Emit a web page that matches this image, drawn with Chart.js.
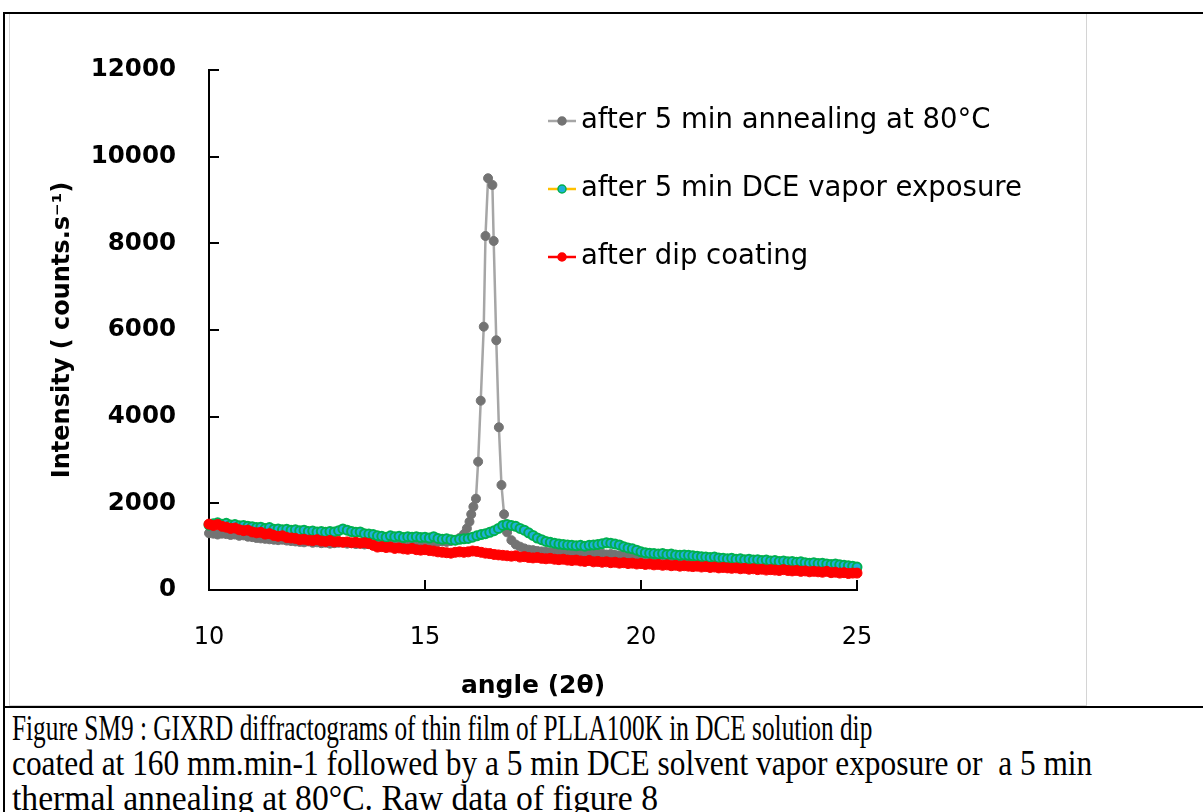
<!DOCTYPE html>
<html>
<head>
<meta charset="utf-8">
<script src="https://cdn.jsdelivr.net/npm/chart.js@4.4.1/dist/chart.umd.min.js"></script>
<style>
  html, body { margin: 0; padding: 0; background: #fff; overflow: hidden; width: 1203px; height: 812px; }
  #frame { position: absolute; left: 9px; top: 13px; width: 1076px; height: 691px; border: 1px solid #d4d4d4; background: #fff; }
  #c { position: absolute; left: 0; top: 0; }
  .bl { position: absolute; background: #000; }
  .cap { position: absolute; left: 12px; font-family: "Liberation Serif", "Times New Roman", serif; font-size: 25.3px; color: #000; white-space: pre; transform-origin: 0 0; line-height: 25px; }
</style>
</head>
<body>
<div id="frame"><canvas id="c" width="1076" height="691"></canvas></div>
<div class="bl" style="left:3px; top:12px; width:1200px; height:2px;"></div>
<div class="bl" style="left:3px; top:12px; width:2px; height:800px;"></div>
<div class="bl" style="left:3px; top:706px; width:1200px; height:2px;"></div>
<div class="cap" style="top:711px; transform: scale(1, 1.4);">Figure SM9 : GIXRD diffractograms of thin film of PLLA100K in DCE solution dip</div>
<div class="cap" style="top:746px; transform: scale(1.24, 1.4);">coated at 160 mm.min-1 followed by a 5 min DCE solvent vapor exposure or  a 5 min</div>
<div class="cap" style="top:781px; transform: scale(1.33, 1.4);">thermal annealing at 80°C. Raw data of figure 8</div>
<script>
// ---------- data ----------
const angles = [
  10.0,10.1,10.2,10.3,10.4,10.5,10.6,10.7,10.8,10.9,
  11.0,11.1,11.2,11.3,11.4,11.5,11.6,11.7,11.8,11.9,
  12.0,12.1,12.2,12.3,12.4,12.5,12.6,12.7,12.8,12.9,
  13.0,13.1,13.2,13.3,13.4,13.5,13.6,13.7,13.8,13.9,
  14.0,14.1,14.2,14.3,14.4,14.5,14.6,14.7,14.8,14.9,
  15.0,15.1,15.2,15.3,15.4,15.5,15.6,15.7,15.8,15.9,
  16.0,16.1,16.2,16.3,16.4,16.5,16.6,16.7,16.8,16.9,
  17.0,17.1,17.2,17.3,17.4,17.5,17.6,17.7,17.8,17.9,
  18.0,18.1,18.2,18.3,18.4,18.5,18.6,18.7,18.8,18.9,
  19.0,19.1,19.2,19.3,19.4,19.5,19.6,19.7,19.8,19.9,
  20.0,20.1,20.2,20.3,20.4,20.5,20.6,20.7,20.8,20.9,
  21.0,21.1,21.2,21.3,21.4,21.5,21.6,21.7,21.8,21.9,
  22.0,22.1,22.2,22.3,22.4,22.5,22.6,22.7,22.8,22.9,
  23.0,23.1,23.2,23.3,23.4,23.5,23.6,23.7,23.8,23.9,
  24.0,24.1,24.2,24.3,24.4,24.5,24.6,24.7,24.8,24.9,
  25.0
];
const dipCoating = [
  1520,1490,1510,1470,1450,1420,1430,1390,1370,1380,
  1340,1320,1330,1290,1300,1260,1240,1250,1210,1200,
  1190,1160,1170,1150,1140,1160,1130,1120,1140,1110,
  1120,1100,1110,1090,1100,1080,1090,1070,1030,990,
  1000,980,990,960,970,950,940,960,930,920,
  930,910,900,880,870,860,850,870,880,870,
  880,900,890,870,850,840,820,810,800,790,
  780,790,760,770,750,740,750,730,720,730,
  710,700,710,690,680,690,670,660,680,650,
  660,640,650,630,640,620,630,610,620,600,
  610,590,600,580,590,570,580,560,570,550,
  560,550,540,550,530,540,520,530,510,520,
  510,500,510,490,500,480,490,470,480,460,
  470,460,450,470,450,440,450,430,440,420,
  430,420,410,430,400,410,390,400,380,390,
  390
];
const dceVapor = [
  1500,1530,1550,1520,1540,1500,1510,1480,1490,1470,
  1460,1440,1450,1420,1440,1400,1410,1390,1400,1380,
  1390,1370,1380,1350,1360,1340,1350,1330,1350,1340,
  1370,1410,1380,1350,1330,1340,1300,1290,1280,1250,
  1240,1220,1250,1230,1240,1210,1230,1220,1230,1210,
  1220,1200,1230,1190,1170,1180,1160,1150,1170,1180,
  1190,1220,1250,1280,1300,1330,1370,1420,1490,1510,
  1490,1470,1420,1380,1320,1260,1200,1160,1120,1100,
  1080,1060,1050,1040,1030,1020,1030,1010,1030,1040,
  1050,1070,1090,1080,1060,1040,1000,970,950,920,
  880,860,850,840,830,840,820,830,810,800,
  810,800,790,780,770,760,750,760,740,730,
  720,730,710,720,700,710,690,700,680,690,
  670,680,660,670,650,660,640,650,630,620,
  630,610,620,600,590,600,580,570,560,550,
  530
];
const annealAngles = [
  10.0,10.1,10.2,10.3,10.4,10.5,10.6,10.7,10.8,10.9,
  11.0,11.1,11.2,11.3,11.4,11.5,11.6,11.7,11.8,11.9,
  12.0,12.1,12.2,12.3,12.4,12.5,12.6,12.7,12.8,12.9,
  13.0,13.1,13.2,13.3,13.4,13.5,13.6,13.7,13.8,13.9,
  14.0,14.1,14.2,14.3,14.4,14.5,14.6,14.7,14.8,14.9,
  15.0,15.1,15.2,15.3,15.4,15.5,15.6,15.7,15.8,15.9,
  15.97,16.03,16.07,16.12,16.18,16.23,16.29,16.36,16.40,16.46,
  16.56,16.59,16.65,16.71,16.77,16.83,16.9,
  17.0,17.1,17.2,17.3,17.4,17.5,17.6,17.7,17.8,17.9,
  18.0,18.1,18.2,18.3,18.4,18.5,18.6,18.7,18.8,18.9,
  19.0,19.1,19.2,19.3,19.4,19.5,19.6,19.7,19.8,19.9,
  20.0,20.1,20.2,20.3,20.4,20.5,20.6,20.7,20.8,20.9,
  21.0,21.1,21.2,21.3,21.4,21.5,21.6,21.7,21.8,21.9,
  22.0,22.1,22.2,22.3,22.4,22.5,22.6,22.7,22.8,22.9,
  23.0,23.1,23.2,23.3,23.4,23.5,23.6,23.7,23.8,23.9,
  24.0,24.1,24.2,24.3,24.4,24.5,24.6,24.7,24.8,24.9,
  25.0
];
const annealing = [
  1310,1300,1280,1300,1290,1270,1280,1250,1260,1230,
  1220,1200,1190,1180,1170,1160,1150,1160,1140,1130,
  1120,1110,1100,1120,1090,1100,1080,1090,1070,1080,
  1090,1100,1070,1080,1060,1070,1050,1060,1040,1050,
  1040,1030,1040,1050,1060,1070,1060,1080,1070,1090,
  1080,1100,1090,1110,1120,1110,1130,1150,1200,1290,
  1420,1576,1747,1922,2107,2961,4369,6077,8170,9502,
  9347,8055,5763,3755,2423,1747,1330,
  1150,1050,1000,960,930,920,900,890,880,870,
  870,860,870,850,860,850,840,850,830,840,
  830,840,820,830,810,800,790,780,760,740,
  830,810,800,790,780,790,770,780,760,750,
  760,750,740,730,720,710,700,710,690,680,
  670,680,660,670,650,660,640,650,630,640,
  620,630,610,620,600,610,590,600,580,570,
  580,560,570,550,540,550,530,520,510,500,
  490
];
const seriesLabels = ['after 5 min annealing at 80°C', 'after 5 min DCE vapor exposure', 'after dip coating'];
const yTicks = [0, 2000, 4000, 6000, 8000, 10000, 12000];
const xTicks = [10, 15, 20, 25];

// ---------- chart ----------
const FONT = '"DejaVu Sans", "Liberation Sans", sans-serif';
const toXY = (xs, ys) => xs.map((x, i) => ({ x: x, y: ys[i] }));

const insideTicks = {
  id: 'insideTicks',
  afterDraw(chart) {
    const c = chart.ctx, xs = chart.scales.x, ys = chart.scales.y, a = chart.chartArea;
    c.save();
    c.strokeStyle = '#000';
    c.lineWidth = 2;
    c.beginPath();
    xTicks.forEach(v => { const p = Math.round(xs.getPixelForValue(v)); c.moveTo(p, a.bottom); c.lineTo(p, a.bottom - 10); });
    yTicks.forEach(v => { const p = Math.round(ys.getPixelForValue(v)); c.moveTo(a.left, p); c.lineTo(a.left + 10, p); });
    c.stroke();
    c.restore();
  }
};

const customLegend = {
  id: 'customLegend',
  afterDraw(chart) {
    const c = chart.ctx;
    const x0 = 538, x1 = 566, tx = 571;
    const rows = [107, 175, 243];
    c.save();
    c.font = '27.5px ' + FONT;
    c.textBaseline = 'middle';
    c.textAlign = 'left';
    chart.data.datasets.forEach((ds, i) => {
      const y = rows[i];
      c.strokeStyle = ds.borderColor;
      c.lineWidth = 2.5;
      c.beginPath(); c.moveTo(x0, y); c.lineTo(x1, y); c.stroke();
      c.fillStyle = ds.pointBackgroundColor;
      c.strokeStyle = ds.pointBorderColor;
      c.lineWidth = 1.5;
      c.beginPath(); c.arc((x0 + x1) / 2, y, 4, 0, Math.PI * 2); c.fill(); c.stroke();
      c.fillStyle = '#000';
      c.fillText(ds.label, tx, y);
    });
    c.restore();
  }
};

new Chart(document.getElementById('c'), {
  type: 'line',
  data: {
    datasets: [
      {
        label: seriesLabels[0],
        data: toXY(annealAngles, annealing),
        borderColor: '#a6a6a6', borderWidth: 2.5,
        pointBackgroundColor: '#737373', pointBorderColor: '#737373',
        pointRadius: 4.5, pointBorderWidth: 1,
        order: 3, clip: false
      },
      {
        label: seriesLabels[1],
        data: toXY(angles, dceVapor),
        borderColor: '#ffc000', borderWidth: 2,
        pointBackgroundColor: '#1fb0d8', pointBorderColor: '#00b050',
        pointRadius: 4.5, pointBorderWidth: 2,
        order: 2, clip: false
      },
      {
        label: seriesLabels[2],
        data: toXY(angles, dipCoating),
        borderColor: '#ff0000', borderWidth: 2,
        pointBackgroundColor: '#ff0000', pointBorderColor: '#ff0000',
        pointRadius: 5, pointBorderWidth: 1,
        order: 1, clip: false
      }
    ]
  },
  options: {
    responsive: false,
    animation: false,
    devicePixelRatio: 1,
    layout: { padding: { left: 0, right: 229, top: 56, bottom: 0 } },
    plugins: { legend: { display: false }, tooltip: { enabled: false } },
    elements: { line: { tension: 0 } },
    scales: {
      x: {
        type: 'linear', min: 10, max: 25,
        afterBuildTicks: s => { s.ticks = xTicks.map(v => ({ value: v })); },
        ticks: { color: '#000', font: { family: FONT, size: 24 }, padding: 33, maxRotation: 0, callback: v => String(v) },
        grid: { display: true, drawOnChartArea: false, drawTicks: false, color: '#000' },
        border: { display: true, color: '#000', width: 2 },
        title: { display: true, text: 'angle (2θ)', color: '#000', font: { family: FONT, size: 25, weight: 'bold' }, padding: { top: 0, bottom: 4 } },
        afterFit: s => { s.height = 115; }
      },
      y: {
        type: 'linear', min: 0, max: 12000,
        afterBuildTicks: s => { s.ticks = yTicks.map(v => ({ value: v })); },
        ticks: { color: '#000', font: { family: FONT, size: 24.5, weight: 'bold' }, padding: 33, callback: v => String(v) },
        grid: { display: true, drawOnChartArea: false, drawTicks: false, color: '#000' },
        border: { display: true, color: '#000', width: 2 },
        title: { display: true, text: 'Intensity ( counts.s⁻¹)', color: '#000', font: { family: FONT, size: 24, weight: 'bold' }, padding: { top: 38, bottom: 0 } },
        afterFit: s => { s.width = 199; }
      }
    }
  },
  plugins: [insideTicks, customLegend]
});
</script>
</body>
</html>
